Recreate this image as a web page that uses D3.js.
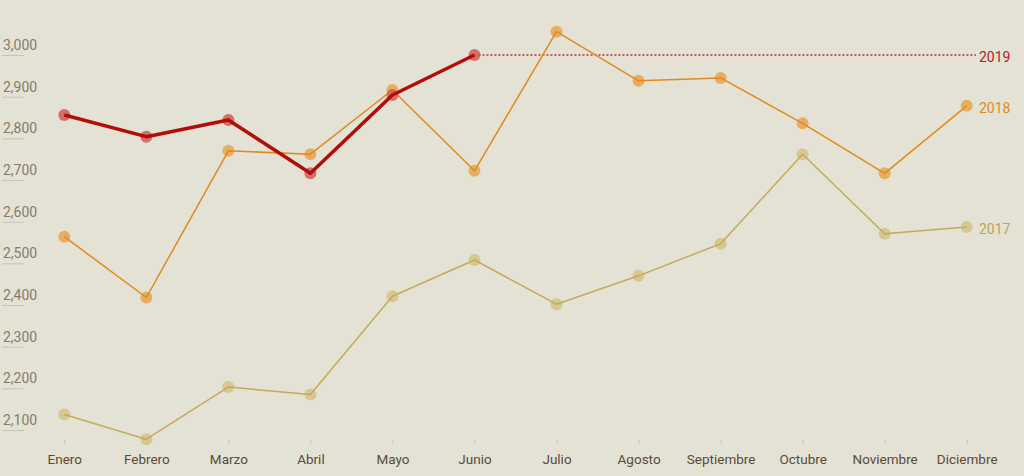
<!DOCTYPE html>
<html>
<head>
<meta charset="utf-8">
<script src="https://cdn.jsdelivr.net/npm/d3@7"></script>
<style>
  html, body { margin: 0; padding: 0; background: #e4e2d5; }
  svg { display: block; font-family: Roboto, "Noto Sans", sans-serif; }
</style>
</head>
<body>
<svg id="chart" width="1024" height="476"></svg>
<script>
const months = ["Enero","Febrero","Marzo","Abril","Mayo","Junio","Julio","Agosto","Septiembre","Octubre","Noviembre","Diciembre"];
const values2017 = [2137, 2078, 2203, 2185, 2421, 2508, 2402, 2470, 2547, 2762, 2571, 2587];
const values2018 = [2564, 2418, 2770, 2762, 2916, 2722, 3056, 2938, 2945, 2836, 2716, 2878];
const values2019 = [2856, 2804, 2844, 2716, 2904, 3000];
const yTicks = [2100, 2200, 2300, 2400, 2500, 2600, 2700, 2800, 2900, 3000];
const seriesNames = ["2017", "2018", "2019"];

const svg = d3.select("#chart");
const W = 1024, H = 476;
svg.append("rect").attr("width", W).attr("height", H).attr("fill", "#e4e2d5");

const x = d3.scalePoint().domain(months).range([64.3, 966.7]);
const y = d3.scaleLinear().domain([2100, 3000]).range([430, 55]);

// Y axis: short underline at value, label above
const yAxis = svg.append("g").attr("class", "y-axis");
const yt = yAxis.selectAll("g").data(yTicks).enter().append("g")
  .attr("transform", d => `translate(0,${y(d)})`);
yt.append("line").attr("x1", 2).attr("x2", 24).attr("y1", 0.5).attr("y2", 0.5)
  .attr("stroke", "#c9c4b2").attr("stroke-width", 1);
yt.append("text").attr("x", 3).attr("y", -5)
  .attr("fill", "#857d6a").attr("font-size", 14)
  .text(d => d3.format(",")(d));

// X axis
const xAxis = d3.axisBottom(x).tickSize(4).tickPadding(13);
const gx = svg.append("g").attr("transform", "translate(0,440)").call(xAxis);
gx.select(".domain").remove();
gx.selectAll(".tick line").attr("stroke", "#c9c4b2");
gx.selectAll(".tick text").attr("fill", "#5a4b38").attr("font-size", 13.5)
  .attr("font-family", "Roboto, 'Noto Sans', sans-serif").attr("dy", "0.55em");

const series = [
  { name: seriesNames[0], values: values2017, line: "#c5aa5a", dot: "#d3c287", width: 1.5, label: "#bfa35a" },
  { name: seriesNames[1], values: values2018, line: "#e08a1c", dot: "#e8a54d", width: 1.5, label: "#dd8a28" },
  { name: seriesNames[2], values: values2019, line: "#b30d08", dot: "#cf5a55", width: 3.5, label: "#b3201a" }
];

const line = d3.line().x((d, i) => x(months[i])).y(d => y(d));

// dotted reference line for last 2019 value
const last19 = values2019[values2019.length - 1];
svg.append("line")
  .attr("x1", x(months[values2019.length - 1])).attr("x2", 976)
  .attr("y1", y(last19)).attr("y2", y(last19))
  .attr("stroke", "#c8302a").attr("stroke-width", 1.3).attr("stroke-dasharray", "2,2");

series.forEach(s => {
  const g = svg.append("g");
  g.selectAll("circle").data(s.values).enter().append("circle")
    .attr("cx", (d, i) => x(months[i])).attr("cy", d => y(d)).attr("r", 6)
    .attr("fill", s.dot).attr("opacity", 0.85);
  g.append("path").datum(s.values).attr("d", line)
    .attr("fill", "none").attr("stroke", s.line).attr("stroke-width", s.width)
    .attr("stroke-linejoin", "round");
  const lastV = s.values[s.values.length - 1];
  g.append("text").attr("x", 979).attr("y", y(lastV) + 2)
    .attr("dy", "0.35em").attr("font-size", 14).attr("fill", s.label)
    .text(s.name);
});
</script>
</body>
</html>
